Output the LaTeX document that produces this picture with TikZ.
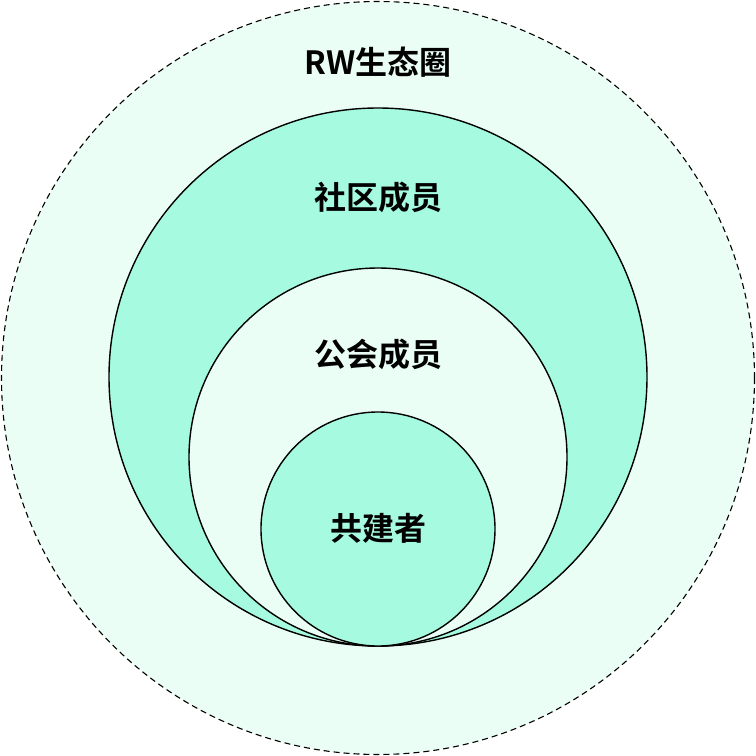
\documentclass[tikz,border=0pt]{standalone}
\usepackage{fontspec}
\newfontfamily\cjk{Noto Sans CJK SC Bold}
\definecolor{mintlight}{HTML}{EAFEF6}
\definecolor{mintdark}{HTML}{A6FADF}
\tikzset{
  ring/.style={draw=black, line width=1.4pt},
  label/.style={font=\cjk\fontsize{32}{34}\selectfont, text=black}
}
\begin{document}
\begin{tikzpicture}[x=1pt,y=-1pt]
\useasboundingbox (0,0) rectangle (756,756);
\def\cx{378}
% nested circles, all touching at the bottom
\filldraw[fill=mintlight, draw=black, line width=1.1pt, dash pattern=on 6pt off 4pt] (\cx,378) circle (376.5);
\filldraw[ring, fill=mintdark] (\cx,377) circle (269);
\filldraw[ring, fill=mintlight] (\cx,457) circle (189);
\filldraw[ring, fill=mintdark] (\cx,529) circle (117);
\node[label] (eco) at (\cx,62) {RW生态圈};
\node[label] (community) at (\cx,197) {社区成员};
\node[label] (guild) at (\cx,354) {公会成员};
\node[label] (builder) at (\cx,528) {共建者};
\end{tikzpicture}
\end{document}
